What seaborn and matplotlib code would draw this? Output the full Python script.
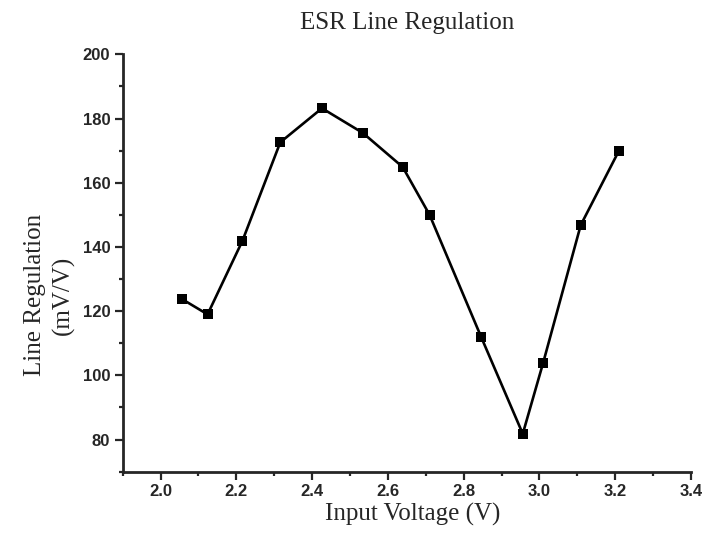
import matplotlib
matplotlib.use("Agg")
import matplotlib.pyplot as plt
from matplotlib.ticker import MultipleLocator
import seaborn as sns
import pandas as pd

# Datos
voltaje = [2.056, 2.124, 2.216, 2.316, 2.426, 2.534, 2.639, 2.710, 2.846, 2.956, 3.010, 3.109, 3.210]
regulacion = [123.8, 119.0, 141.9, 172.6, 183.2, 175.5, 164.9, 150.0, 112.0, 81.8, 104.0, 146.8, 170.0]

df = pd.DataFrame({"Voltaje": voltaje, "Regulacion": regulacion})

sns.set_style("ticks")
plt.rcParams["font.family"] = ["Liberation Serif", "DejaVu Serif"]

fig = plt.figure(figsize=(7.04, 5.42), dpi=100)
ax = fig.add_axes([0.1743, 0.1297, 0.8072, 0.7701])

sns.lineplot(
    data=df, x="Voltaje", y="Regulacion", ax=ax,
    color="black", linewidth=1.9, marker="s", markersize=6.8,
    markeredgewidth=0, sort=False
)

ax.set_xlim(1.9, 3.4)
ax.set_ylim(70, 200)
ax.xaxis.set_major_locator(MultipleLocator(0.2))
ax.xaxis.set_minor_locator(MultipleLocator(0.1))
ax.yaxis.set_major_locator(MultipleLocator(20))
ax.yaxis.set_minor_locator(MultipleLocator(10))

for lado in ["top", "right"]:
    ax.spines[lado].set_visible(False)
for lado in ["left", "bottom"]:
    ax.spines[lado].set_linewidth(2.0)

ax.tick_params(which="major", direction="out", length=6, width=1.6, pad=3)
ax.tick_params(which="minor", direction="out", length=3, width=1.6)
for lbl in ax.get_xticklabels() + ax.get_yticklabels():
    lbl.set_fontfamily(["Liberation Sans", "DejaVu Sans"])
    lbl.set_fontweight("bold")
    lbl.set_fontsize(12)

ax.set_title("ESR Line Regulation", fontsize=18, pad=18)
ax.set_xlabel("Input Voltage (V)", fontsize=18)
ax.set_ylabel("Line Regulation\n(mV/V)", fontsize=18, linespacing=1.3)
ax.xaxis.set_label_coords(0.51, -0.075)
ax.yaxis.set_label_coords(-0.085, 0.423)

fig.savefig("out.png", dpi=100)
